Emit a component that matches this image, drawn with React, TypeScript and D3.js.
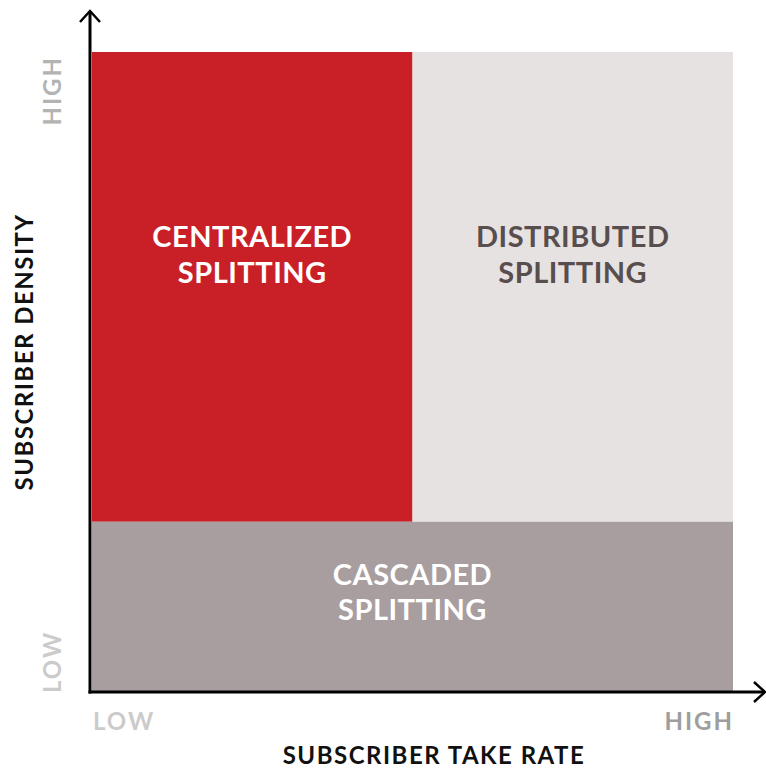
import { useEffect, useRef } from "react";
import * as d3 from "d3";

// quadrant cells, in axis units (0..1 on both axes)
const cellNames = ["CENTRALIZED|SPLITTING", "DISTRIBUTED|SPLITTING", "CASCADED|SPLITTING"];
const cellX0 = [0, 0.5, 0];
const cellX1 = [0.5, 1, 1];
const cellY0 = [0.266, 0.266, 0];
const cellY1 = [1, 1, 0.266];
const cellFill = ["#c92027", "#e6e2e1", "#a89e9f"];
const cellText = ["#ffffff", "#584e4e", "#ffffff"];

const xTicks = ["LOW", "HIGH"];
const yTicks = ["LOW", "HIGH"];
const xTitle = "SUBSCRIBER TAKE RATE";
const yTitle = "SUBSCRIBER DENSITY";

const App = () => {
    const svgRef = useRef<SVGSVGElement | null>(null);

    useEffect(() => {
        const width = 766;
        const height = 771;
        const margin = { top: 52, right: 33, bottom: 79, left: 92 };

        const svg = d3.select(svgRef.current).attr("width", width).attr("height", height);
        svg.selectAll("*").remove();

        const x = d3.scaleLinear().domain([0, 1]).range([margin.left, width - margin.right]);
        const y = d3.scaleLinear().domain([0, 1]).range([height - margin.bottom, margin.top]);

        const font = "Lato, 'Open Sans', sans-serif";

        const cells = cellNames.map((name, i) => ({
            lines: name.split("|"),
            x0: cellX0[i], x1: cellX1[i], y0: cellY0[i], y1: cellY1[i],
            fill: cellFill[i], color: cellText[i],
        }));

        // cells
        svg.selectAll(".cell")
            .data(cells)
            .enter()
            .append("rect")
            .attr("class", "cell")
            .attr("x", (d) => x(d.x0))
            .attr("y", (d) => y(d.y1))
            .attr("width", (d) => x(d.x1) - x(d.x0))
            .attr("height", (d) => y(d.y0) - y(d.y1))
            .attr("fill", (d) => d.fill);

        // cell labels
        const labels = svg.selectAll(".cell-label")
            .data(cells)
            .enter()
            .append("text")
            .attr("class", "cell-label")
            .attr("text-anchor", "middle")
            .attr("font-family", font)
            .attr("font-weight", "bold")
            .attr("font-size", 29)
            .attr("letter-spacing", 0.5)
            .attr("fill", (d) => d.color);

        labels.each(function (d) {
            const cx = (x(d.x0) + x(d.x1)) / 2;
            const top = d.y1 === 1 ? y(d.y1) + 195 : y(d.y1) + 63;
            d3.select(this).selectAll("tspan")
                .data(d.lines)
                .enter()
                .append("tspan")
                .attr("x", cx)
                .attr("y", (_, j) => top + j * 35.5)
                .text((t) => t);
        });

        // axes with arrowheads
        const x0 = x(0) - 2;
        const yb = y(0);
        const axis = svg.append("g").attr("stroke", "#000").attr("fill", "none").attr("stroke-width", 3);
        axis.append("line").attr("x1", x0).attr("y1", yb + 1.5).attr("x2", x0).attr("y2", 12);
        axis.append("line").attr("x1", x0 - 1.5).attr("y1", yb).attr("x2", 764).attr("y2", yb);
        axis.append("path")
            .attr("stroke-width", 2.5)
            .attr("d", `M${x0 - 10},${22} L${x0},${11} L${x0 + 10},${22}`);
        axis.append("path")
            .attr("stroke-width", 2.5)
            .attr("d", `M${754},${yb - 10} L${765},${yb} L${754},${yb + 10}`);

        const tick = (sel: d3.Selection<SVGTextElement, unknown, null, undefined>) =>
            sel.attr("font-family", font)
                .attr("font-weight", "bold")
                .attr("font-size", 24)
                .attr("letter-spacing", 2);

        // x tick labels
        svg.append("text")
            .attr("x", x(0) + 1)
            .attr("y", 730)
            .call(tick)
            .attr("fill", "#cbcbcb")
            .text(xTicks[0]);
        svg.append("text")
            .attr("x", x(1) + 1)
            .attr("y", 730)
            .attr("text-anchor", "end")
            .call(tick)
            .attr("fill", "#9e9e9e")
            .text(xTicks[1]);

        // y tick labels
        svg.append("text")
            .attr("transform", `translate(61,${y(0) + 1}) rotate(-90)`)
            .call(tick)
            .attr("fill", "#cbcbcb")
            .text(yTicks[0]);
        svg.append("text")
            .attr("transform", `translate(61,${y(1) + 4}) rotate(-90)`)
            .attr("text-anchor", "end")
            .call(tick)
            .attr("fill", "#b3b3b3")
            .text(yTicks[1]);

        // axis titles
        svg.append("text")
            .attr("x", 434)
            .attr("y", 764)
            .attr("text-anchor", "middle")
            .attr("font-family", font)
            .attr("font-weight", "bold")
            .attr("font-size", 24)
            .attr("letter-spacing", 1.5)
            .attr("fill", "#111")
            .text(xTitle);
        svg.append("text")
            .attr("transform", `translate(33,352) rotate(-90)`)
            .attr("text-anchor", "middle")
            .attr("font-family", font)
            .attr("font-weight", "bold")
            .attr("font-size", 24)
            .attr("letter-spacing", 1.5)
            .attr("fill", "#111")
            .text(yTitle);
    }, []);

    return (
        <div style={{ position: "absolute", left: 0, top: 0 }}>
            <svg ref={svgRef} style={{ display: "block" }}></svg>
        </div>
    );
};

export default App;
